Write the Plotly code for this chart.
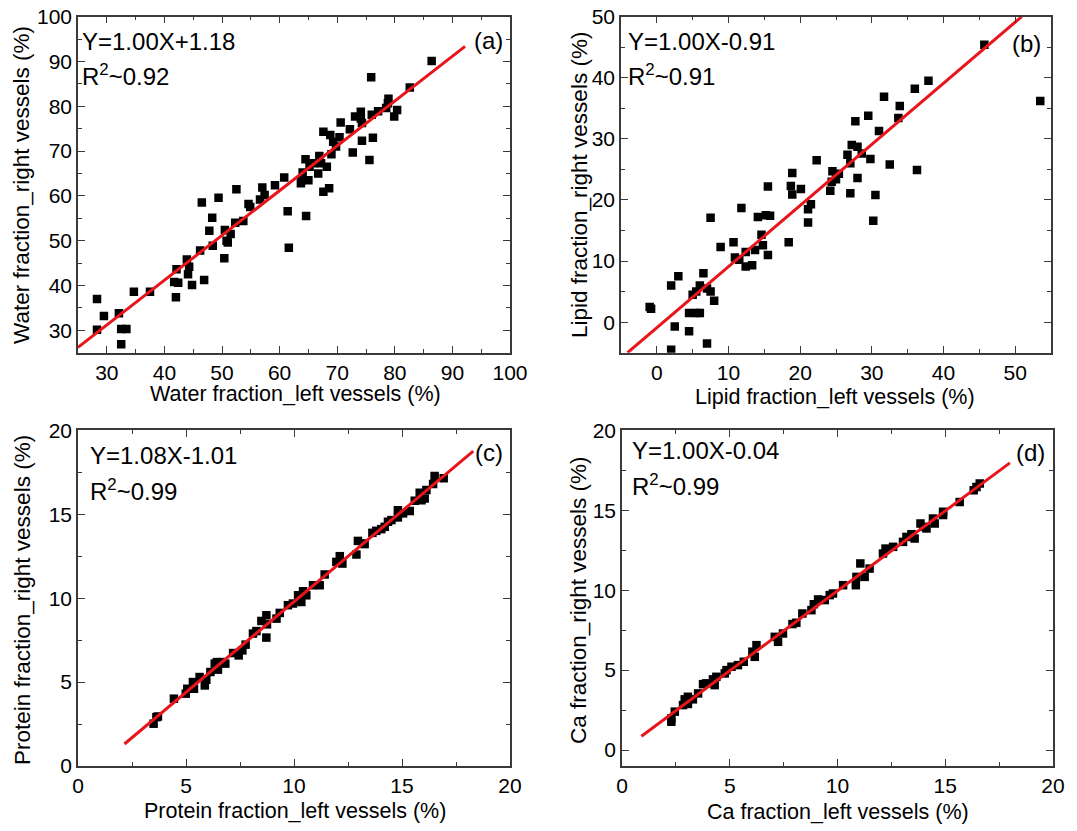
import plotly.graph_objects as go

# ---------------- data ----------------
water_left = [86.4, 75.9, 82.6, 78.9, 78.8, 78.5, 80.4, 79.9, 77.1, 76.0, 74.1, 73.1, 74.1, 74.3,
              70.6, 72.2, 76.2, 74.3, 72.7, 75.6, 67.6, 68.8, 70.4, 69.3, 69.8, 69.0, 66.9, 64.5,
              65.9, 67.2, 65.2, 68.2, 66.7, 64.0, 63.8, 65.0, 63.7, 67.6, 68.6, 60.8, 59.2, 57.0,
              57.4, 56.6, 54.6, 54.9, 52.5, 49.4, 46.5, 48.3, 47.8, 50.5, 51.5, 50.8, 51.0, 48.4,
              52.3, 53.7, 61.4, 64.6, 61.6, 50.4, 46.2, 43.9, 44.3, 42.1,
              41.7, 42.4, 42.0, 44.1, 44.8, 46.9, 34.7, 37.5, 28.3, 28.3, 29.5, 32.1, 32.5, 33.4, 32.5]
water_right = [90.1, 86.5, 84.2, 81.7, 80.7, 79.6, 79.2, 77.7, 78.9, 78.1, 78.8, 77.7, 77.3, 76.3,
               76.4, 74.9, 73.0, 72.3, 69.7, 68.0, 74.3, 73.6, 73.1, 72.1, 71.0, 69.3, 68.9, 68.2,
               67.3, 67.3, 66.5, 66.5, 65.0, 65.2, 63.5, 63.5, 62.8, 60.9, 61.7, 64.1, 62.4, 61.9,
               60.2, 59.2, 58.2, 57.5, 61.5, 59.6, 58.5, 55.1, 52.2, 52.4, 51.5, 50.0, 49.6, 48.9,
               54.0, 54.4, 56.6, 55.5, 48.4, 46.1, 47.8, 45.8, 44.2, 43.6,
               40.8, 40.6, 37.4, 42.5, 40.1, 41.2, 38.6, 38.6, 37.0, 30.1, 33.2, 33.8, 30.3, 30.3, 26.9]

lipid_left = [45.7, 53.5, 37.9, 36.0, 31.7, 33.9, 33.7, 29.5, 27.7, 31.0, 27.2, 28.0, 26.6, 28.6,
              29.8, 27.0, 32.5, 36.3, 28.0, 22.3, 24.5, 25.4, 25.0, 24.4, 24.2, 27.0, 30.5, 30.2,
              18.9, 18.7, 20.1, 18.9, 15.5, 21.5, 21.1, 21.1, 11.8, 7.5, 14.1, 15.2, 15.8, 14.6,
              14.8, 18.4, 10.7, 8.9, 13.7, 12.4, 15.5, 10.9, 11.5, 12.4, 13.3,
              -1.0, -0.8, 2.0, 3.0, 2.5, 2.0, 4.5, 5.0, 5.5, 6.0, 6.5, 7.0, 7.5, 8.0, 6.0, 4.5, 7.0, 5.5]
lipid_right = [45.4, 36.2, 39.5, 38.2, 36.9, 35.4, 33.4, 33.8, 32.9, 31.3, 29.0, 28.7, 27.4, 27.6,
               26.7, 26.0, 25.8, 24.9, 23.6, 26.5, 24.7, 24.3, 23.4, 23.0, 21.5, 21.1, 20.8, 16.6,
               24.4, 22.3, 21.8, 20.9, 22.2, 19.3, 18.5, 16.3, 18.7, 17.1, 17.2, 17.5, 17.4, 14.3,
               12.6, 13.1, 13.1, 12.3, 11.8, 11.5, 11.0, 10.6, 10.2, 9.1, 9.3,
               2.5, 2.2, 6.0, 7.5, -0.7, -4.5, 1.5, 4.5, 5.0, 6.0, 8.0, 5.5, 5.0, 3.5, 1.5, -1.5, -3.5, 1.5]

protein_left = [3.50, 3.63, 3.70, 4.44, 4.99, 5.06, 5.32, 5.37, 5.63, 5.87, 5.94, 6.13, 6.33, 6.48,
                6.43, 6.69, 6.82, 7.18, 7.44, 7.61, 7.76, 8.10, 8.26, 8.49, 8.72, 8.75, 8.72, 9.19,
                9.34, 9.72, 9.95, 10.19, 10.34, 10.42, 10.57, 10.88, 11.19, 11.42, 11.96, 12.12, 12.24,
                12.89, 12.96, 13.19, 13.27, 13.63, 13.81, 14.04, 14.20, 14.35, 14.51, 14.81, 14.81,
                15.05, 15.36, 15.59, 15.82, 15.90, 16.05, 16.13, 16.44, 16.51, 16.93]
protein_right = [2.52, 2.91, 2.95, 4.01, 4.31, 4.60, 5.00, 4.60, 5.30, 4.80, 5.14, 5.60, 6.10, 5.74,
                 6.19, 6.19, 6.10, 6.73, 6.59, 6.89, 7.23, 7.89, 8.04, 8.64, 8.98, 8.44, 7.65, 8.78,
                 9.12, 9.58, 9.68, 10.17, 9.77, 10.41, 10.17, 10.77, 10.77, 11.41, 12.16, 12.50, 12.06,
                 12.60, 13.41, 13.26, 13.22, 13.89, 14.01, 14.11, 14.25, 14.55, 14.65, 15.24, 14.81,
                 15.05, 15.19, 15.80, 16.28, 15.84, 15.94, 16.44, 16.80, 17.27, 17.14]

ca_left = [2.29, 2.29, 2.45, 2.83, 2.91, 3.06, 3.06, 3.29, 3.53, 3.76, 3.91, 4.22, 4.30, 4.38,
           4.77, 4.85, 5.08, 5.38, 5.65, 6.05, 6.16, 6.24, 7.09, 7.24, 7.47, 7.91, 8.09, 8.37,
           8.79, 8.90, 9.10, 9.41, 9.64, 9.79, 10.26, 10.85, 10.88, 11.06, 11.26, 11.49, 12.11,
           12.23, 12.58, 13.04, 13.20, 13.43, 13.58, 13.85, 13.98, 14.13, 14.43, 14.51, 14.90,
           14.90, 15.67, 16.32, 16.60, 16.45]
ca_right = [1.77, 1.98, 2.40, 2.81, 3.17, 3.33, 2.88, 3.17, 3.54, 4.12, 4.17, 4.42, 4.06, 4.58,
            4.79, 5.00, 5.21, 5.31, 5.52, 6.15, 5.83, 6.56, 7.08, 6.77, 7.29, 7.88, 7.96, 8.54,
            8.75, 9.12, 9.42, 9.38, 9.69, 9.79, 10.31, 10.31, 10.83, 11.67, 10.83, 11.35, 12.29,
            12.60, 12.71, 13.02, 13.33, 13.50, 13.23, 14.17, 13.96, 13.86, 14.48, 14.17, 14.90,
            14.70, 15.52, 16.25, 16.67, 16.46]

# fit lines: slope, intercept, x-span
fit_slope = [1.00, 1.00, 1.08, 1.00]
fit_intercept = [1.18, -0.91, -1.01, -0.04]
fit_xspan = [(25.0, 92.2), (-4.09, 50.91), (2.15, 18.3), (0.9, 18.0)]
eq_text = ["Y=1.00X+1.18", "Y=1.00X-0.91", "Y=1.08X-1.01", "Y=1.00X-0.04"]
r2_text = ["0.92", "0.91", "0.99", "0.99"]
panel_tags = ["(a)", "(b)", "(c)", "(d)"]

x_titles = ["Water fraction_left vessels (%)", "Lipid fraction_left vessels (%)",
            "Protein fraction_left vessels (%)", "Ca fraction_left vessels (%)"]
y_titles = ["Water fraction_right vessels (%)", "Lipid fraction_right vessels (%)",
            "Protein fraction_right vessels (%)", "Ca fraction_right vessels (%)"]

x_ranges = [(25, 100), (-5, 55), (0, 20), (0, 20)]
y_ranges = [(25, 100), (-5, 50), (0, 20), (-1, 20)]
x_dticks = [10, 10, 5, 5]
y_dticks = [10, 10, 5, 5]

series = [(water_left, water_right), (lipid_left, lipid_right),
          (protein_left, protein_right), (ca_left, ca_right)]

# ---------------- layout geometry (pixels) ----------------
W, H = 1077, 831
x_dom = [(78, 510), (621, 1051), (78, 510), (622, 1053)]
y_dom = [(16.7, 352.7), (16.7, 352.7), (430.3, 766), (430.3, 766)]
xtitle_pos = [(295, 394), (835, 397), (295, 811), (838, 812)]
ytitle_pos = [(22, 185), (580, 185), (22, 600), (578, 600)]
eq_pos = [(0.005, 0.925), (0.011, 0.925), (0.024, 0.926), (0.018, 0.941)]
r2_pos = [(0.005, 0.826), (0.011, 0.826), (0.024, 0.822), (0.018, 0.837)]
tag_pos = [(0.988, 0.928), (0.981, 0.919), (0.988, 0.935), (0.986, 0.935)]

FONT = "Liberation Sans, Arial, sans-serif"
RED = "#e8161c"
AX = "#3a3a3a"

fig = go.Figure()
layout = dict(template="none", width=W, height=H, margin=dict(l=0, r=0, t=0, b=0),
              paper_bgcolor="white", plot_bgcolor="white", showlegend=False,
              font=dict(family=FONT, size=20, color="black"))
annotations = []

for i in range(4):
    xa = "x" if i == 0 else f"x{i+1}"
    ya = "y" if i == 0 else f"y{i+1}"
    xl = "xaxis" if i == 0 else f"xaxis{i+1}"
    yl = "yaxis" if i == 0 else f"yaxis{i+1}"
    xs, ys = series[i]
    fig.add_trace(go.Scatter(x=xs, y=ys, mode="markers", xaxis=xa, yaxis=ya,
                             marker=dict(symbol="square", size=8.5, color="black",
                                         line=dict(width=0))))
    x0, x1 = fit_xspan[i]
    fx = [x0, x1]
    fy = [fit_slope[i] * v + fit_intercept[i] for v in fx]
    fig.add_trace(go.Scatter(x=fx, y=fy, mode="lines", xaxis=xa, yaxis=ya,
                             line=dict(color=RED, width=3)))

    common = dict(showline=True, linecolor=AX, linewidth=1.5, mirror="allticks",
                  ticks="inside", ticklen=7, tickwidth=1.3, tickcolor=AX,
                  showgrid=False, zeroline=False, automargin=False,
                  tickfont=dict(size=21, family=FONT, color="black"))
    layout[xl] = dict(common, domain=[x_dom[i][0] / W, x_dom[i][1] / W],
                      range=list(x_ranges[i]), dtick=x_dticks[i], tick0=0,
                      anchor=ya,
                      minor=dict(dtick=x_dticks[i] / 2, ticks="inside", ticklen=4,
                                 tickcolor=AX, tickwidth=1.2))
    layout[yl] = dict(common, domain=[1 - y_dom[i][1] / H, 1 - y_dom[i][0] / H],
                      range=list(y_ranges[i]), dtick=y_dticks[i], tick0=0,
                      anchor=xa,
                      minor=dict(dtick=y_dticks[i] / 2, ticks="inside", ticklen=4,
                                 tickcolor=AX, tickwidth=1.2))

    # axis titles as paper annotations
    annotations.append(dict(text=x_titles[i], xref="paper", yref="paper",
                            x=xtitle_pos[i][0] / W, y=1 - xtitle_pos[i][1] / H,
                            xanchor="center", yanchor="middle", showarrow=False,
                            font=dict(size=21.5, family=FONT, color="black")))
    annotations.append(dict(text=y_titles[i], xref="paper", yref="paper", textangle=-90,
                            x=ytitle_pos[i][0] / W, y=1 - ytitle_pos[i][1] / H,
                            xanchor="center", yanchor="middle", showarrow=False,
                            font=dict(size=22.5, family=FONT, color="black")))

    xd = f"{xa} domain"
    yd = f"{ya} domain"
    annotations.append(dict(text=eq_text[i], xref=xd, yref=yd, x=eq_pos[i][0], y=eq_pos[i][1],
                            xanchor="left", yanchor="middle", align="left", showarrow=False,
                            font=dict(size=24, family=FONT, color="black")))
    annotations.append(dict(text="R<sup>2</sup>~" + r2_text[i], xref=xd, yref=yd,
                            x=r2_pos[i][0], y=r2_pos[i][1], align="left",
                            xanchor="left", yanchor="middle", showarrow=False,
                            font=dict(size=24, family=FONT, color="black")))
    annotations.append(dict(text=panel_tags[i], xref=xd, yref=yd, x=tag_pos[i][0], y=tag_pos[i][1],
                            xanchor="right", yanchor="middle", align="right", showarrow=False,
                            font=dict(size=24, family=FONT, color="black")))

layout["annotations"] = annotations
fig.update_layout(**layout)
fig.write_html("out.html", config={"displayModeBar": False},
               post_script="document.body.style.margin='0px';")
